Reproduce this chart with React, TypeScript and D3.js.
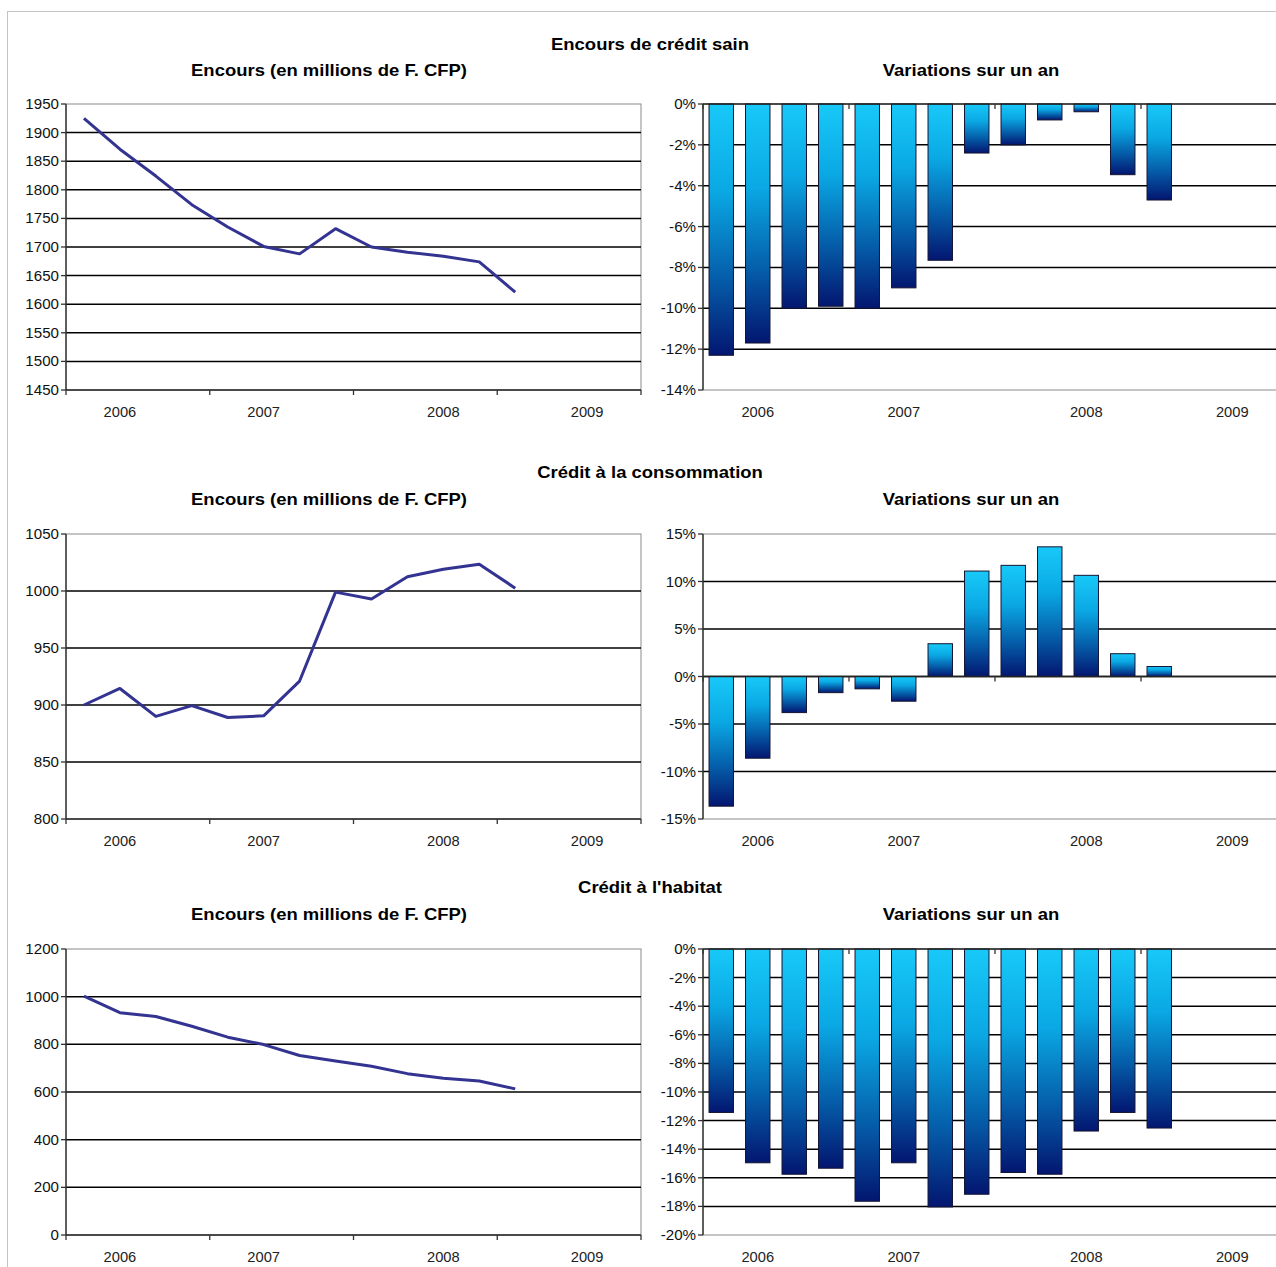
import React from 'react';
import * as d3 from 'd3';

// ---- Data ----
const quarters = [
  'T1 2006', 'T2 2006', 'T3 2006', 'T4 2006',
  'T1 2007', 'T2 2007', 'T3 2007', 'T4 2007',
  'T1 2008', 'T2 2008', 'T3 2008', 'T4 2008',
  'T1 2009', 'T2 2009', 'T3 2009', 'T4 2009',
];
const yearLabels = ['2006', '2007', '2008', '2009'];
const yearLabelQuarters = ['T2 2006', 'T2 2007', 'T3 2008', 'T3 2009'];

const rowTitles = ['Encours de crédit sain', 'Crédit à la consommation', "Crédit à l'habitat"];
const leftSubtitle = 'Encours (en millions de F. CFP)';
const rightSubtitle = 'Variations sur un an';

const sainEncours = [1925, 1871, 1824, 1774, 1735, 1701, 1688, 1732, 1700, 1691, 1684, 1674, 1621];
const sainVariation = [-12.3, -11.7, -10.0, -9.9, -10.0, -9.0, -7.65, -2.4, -2.0, -0.78, -0.38, -3.46, -4.7];

const consoEncours = [900, 914.5, 890, 899.5, 889, 890.5, 921, 999, 993, 1012.5, 1019, 1023.5, 1002.5];
const consoVariation = [-13.65, -8.6, -3.8, -1.7, -1.3, -2.6, 3.45, 11.1, 11.7, 13.65, 10.65, 2.4, 1.05];

const habitatEncours = [1002, 933, 917, 876, 830, 799, 753, 730, 708, 677, 658, 646, 613];
const habitatVariation = [-11.43, -14.95, -15.75, -15.33, -17.64, -14.95, -18.04, -17.15, -15.63, -15.75, -12.73, -11.43, -12.52];

const sainEncoursTicks = [1450, 1500, 1550, 1600, 1650, 1700, 1750, 1800, 1850, 1900, 1950];
const sainVariationTicks = [-14, -12, -10, -8, -6, -4, -2, 0];
const consoEncoursTicks = [800, 850, 900, 950, 1000, 1050];
const consoVariationTicks = [-15, -10, -5, 0, 5, 10, 15];
const habitatEncoursTicks = [0, 200, 400, 600, 800, 1000, 1200];
const habitatVariationTicks = [-20, -18, -16, -14, -12, -10, -8, -6, -4, -2, 0];

// ---- Layout ----
const W = 1276;
const H = 1267;
const LEFT = { x0: 66, x1: 641 };
const RIGHT = { x0: 703, x1: 1287 };
const rowsLayout = [
  { titleY: 50, subY: 76, top: 104, bottom: 390 },
  { titleY: 478, subY: 505, top: 534, bottom: 819 },
  { titleY: 893, subY: 920, top: 949, bottom: 1235 },
];
const FONT = "'Liberation Sans', Arial, sans-serif";

const rowsData = [
  { line: sainEncours, lineTicks: sainEncoursTicks, bars: sainVariation, barTicks: sainVariationTicks },
  { line: consoEncours, lineTicks: consoEncoursTicks, bars: consoVariation, barTicks: consoVariationTicks },
  { line: habitatEncours, lineTicks: habitatEncoursTicks, bars: habitatVariation, barTicks: habitatVariationTicks },
];

function SText({ x, y, anchor = 'middle', size = 13, bold = false, fill = '#111', stretch = 1.1, children }: any) {
  return (
    <text
      transform={`translate(${x},${y}) scale(${stretch},1)`}
      textAnchor={anchor}
      fontSize={size}
      fontWeight={bold ? 'bold' : 'normal'}
      fontFamily={FONT}
      fill={fill}
    >
      {children}
    </text>
  );
}

function Panel({ x0, x1, top, bottom, ticks, values, kind, fmt, gradId }: any) {
  const xBand = d3.scaleBand<string>().domain(quarters).range([x0, x1]).padding(0);
  const bw = xBand.bandwidth();
  const xc = (i: number) => (xBand(quarters[i]) as number) + bw / 2;
  const minT = d3.min(ticks) as number;
  const maxT = d3.max(ticks) as number;
  const y = d3.scaleLinear().domain([minT, maxT]).range([bottom, top]);
  const axisY = kind === 'bar' ? y(0) : bottom;
  const boundaries = [0, 4, 8, 12, 16].map((k) => (k < 16 ? (xBand(quarters[k]) as number) : x1));

  const lineGen = d3.line<number>().x((_, i) => xc(i)).y((v) => y(v));

  return (
    <g>
      <rect x={x0} y={top} width={x1 - x0} height={bottom - top} fill="#fff" stroke="#8a8a8a" strokeWidth={1} />
      {ticks
        .filter((t: number) => t !== minT && t !== maxT)
        .map((t: number) => (
          <line key={'g' + t} x1={x0} x2={x1} y1={y(t)} y2={y(t)} stroke="#000" strokeWidth={1.5} />
        ))}
      {kind === 'bar' &&
        values.map((v: number, i: number) => {
          const w = bw * 0.67;
          const yTop = Math.min(y(v), y(0));
          const h = Math.abs(y(v) - y(0));
          return (
            <rect
              key={'b' + i}
              x={xc(i) - w / 2}
              y={yTop}
              width={w}
              height={h}
              fill={`url(#${gradId})`}
              stroke="#141432"
              strokeWidth={1}
            />
          );
        })}
      {kind === 'line' && (
        <path d={lineGen(values) as string} fill="none" stroke="#333391" strokeWidth={3} strokeLinejoin="round" />
      )}
      <line x1={x0} x2={x0} y1={top} y2={bottom} stroke="#333" strokeWidth={1.4} />
      {ticks.map((t: number) => (
        <g key={'t' + t}>
          <line x1={x0 - 5} x2={x0} y1={y(t)} y2={y(t)} stroke="#333" strokeWidth={1.3} />
          <SText x={x0 - 7} y={y(t) + 5} anchor="end" size={14} stretch={1.08} fill="#111">
            {fmt(t)}
          </SText>
        </g>
      ))}
      <line x1={x0} x2={x1} y1={axisY} y2={axisY} stroke="#222" strokeWidth={1.5} />
      {boundaries.map((bx: number, k: number) => (
        <line key={'xt' + k} x1={bx} x2={bx} y1={axisY} y2={axisY + 5} stroke="#333" strokeWidth={1.3} />
      ))}
      {yearLabels.map((lab, k) => (
        <SText
          key={lab}
          x={(xBand(yearLabelQuarters[k]) as number) + bw / 2}
          y={bottom + 27}
          size={14}
          stretch={1.05}
          fill="#222"
        >
          {lab}
        </SText>
      ))}
    </g>
  );
}

export default function App() {
  return (
    <div style={{ position: 'absolute', left: 0, top: 0 }}>
      <svg width={W} height={H} style={{ display: 'block', background: '#fff' }}>
        <defs>
          <linearGradient id="barGrad" x1="0" y1="0" x2="0" y2="1">
            <stop offset="0" stopColor="#18c9f8" />
            <stop offset="0.35" stopColor="#0aa8e4" />
            <stop offset="0.7" stopColor="#055ca8" />
            <stop offset="1" stopColor="#031670" />
          </linearGradient>
        </defs>
        <rect x={7.5} y={11.5} width={W} height={H} fill="#fff" stroke="#c4c4c4" strokeWidth={1} />
        {rowsLayout.map((r, ri) => {
          const d = rowsData[ri];
          return (
            <g key={ri}>
              <SText x={650} y={r.titleY} size={16.5} stretch={1.12} bold fill="#000">
                {rowTitles[ri]}
              </SText>
              <SText x={329} y={r.subY} size={16.5} stretch={1.12} bold fill="#000">
                {leftSubtitle}
              </SText>
              <SText x={971} y={r.subY} size={16.5} stretch={1.12} bold fill="#000">
                {rightSubtitle}
              </SText>
              <Panel
                x0={LEFT.x0}
                x1={LEFT.x1}
                top={r.top}
                bottom={r.bottom}
                ticks={d.lineTicks}
                values={d.line}
                kind="line"
                fmt={(t: number) => String(t)}
              />
              <Panel
                x0={RIGHT.x0}
                x1={RIGHT.x1}
                top={r.top}
                bottom={r.bottom}
                ticks={d.barTicks}
                values={d.bars}
                kind="bar"
                fmt={(t: number) => `${t}%`}
                gradId="barGrad"
              />
            </g>
          );
        })}
      </svg>
    </div>
  );
}
